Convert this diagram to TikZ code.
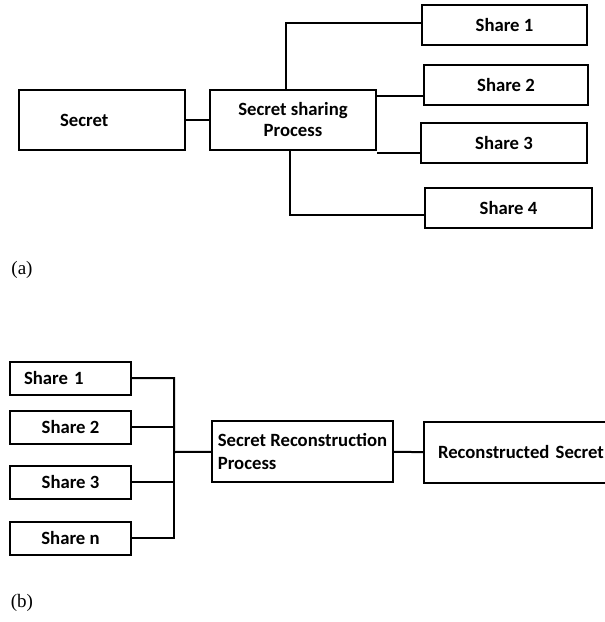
\documentclass[tikz,border=0pt]{standalone}
\usepackage{fontspec}
\setmainfont{Carlito}
\newfontfamily\capfont{Liberation Serif}
\usepackage{tikz}

\begin{document}
\begin{tikzpicture}[x=1pt,y=-1pt,
    box/.style={draw,line width=2pt,inner sep=0pt,font=\bfseries\fontsize{18.7}{21}\selectfont},
    link/.style={line width=2pt},
    caption/.style={font=\capfont\fontsize{19}{22}\selectfont}]
\useasboundingbox (0,0) rectangle (605,622);
  % (a) sharing
  \node[box,minimum width=166pt,minimum height=60pt,text width=84pt,inner xsep=41pt,align=left] (secret) at (102,120) {Secret};
  \node[box,minimum width=166pt,minimum height=60pt,align=center] (ssp) at (293,120) {Secret sharing\\Process};
  \node[box,minimum width=165pt,minimum height=40pt] (s1) at (504.5,25) {Share 1};
  \node[box,minimum width=164pt,minimum height=40pt] (s2) at (506,85) {Share 2};
  \node[box,minimum width=166pt,minimum height=40pt] (s3) at (504,143) {Share 3};
  \node[box,minimum width=167pt,minimum height=40pt] (s4) at (508.5,208) {Share 4};
  \node[caption] (la) at (22,270) {(a)};
  \coordinate (j1) at ([yshift=2pt]s1.west);
  \coordinate (j2) at ([yshift=-11pt]s2.west);
  \coordinate (j3) at ([yshift=-10pt]s3.west);
  \coordinate (j4) at ([yshift=-7pt]s4.west);
  \draw[link] (secret) -- (ssp);
  \draw[link] (ssp.north) ++(-7,0) |- (j1);
  \draw[link] (ssp.east |- j2) -- (j2);
  \draw[link] (ssp.east |- j3) -- (j3);
  \draw[link] (ssp.south) ++(-3,0) |- (j4);
  % (b) reconstruction
  \node[box,minimum width=121pt,minimum height=33pt,text width=93pt,inner xsep=14pt,align=left] (b1) at (70.5,378) {Share 1};
  \node[box,minimum width=121pt,minimum height=33pt] (b2) at (70.5,427) {Share 2};
  \node[box,minimum width=121pt,minimum height=33pt] (b3) at (70.5,482) {Share 3};
  \node[box,minimum width=121pt,minimum height=33pt] (bn) at (70.5,538) {Share n};
  \node[box,minimum width=181pt,minimum height=61pt,inner xsep=5pt,align=left,font=\bfseries\fontsize{18.7}{23}\selectfont] (srp) at (302.5,451.5) {Secret Reconstruction\\Process};
  \node[box,minimum width=200pt,minimum height=61pt,text width=172pt,inner xsep=14pt,align=left] (rs) at (524,452.5) {Reconstructed Secret};
  \node[caption] (lb) at (22,603) {(b)};
  \coordinate (bus) at (174,452);
  \draw[link] (b1) -| (bus) -- (srp);
  \draw[link] (bn) -| (bus);
  \draw[link] (b2) -- (b2 -| bus);
  \draw[link] (b3) -- (b3 -| bus);
  \draw[link] (srp) -- (rs);
\end{tikzpicture}
\end{document}
